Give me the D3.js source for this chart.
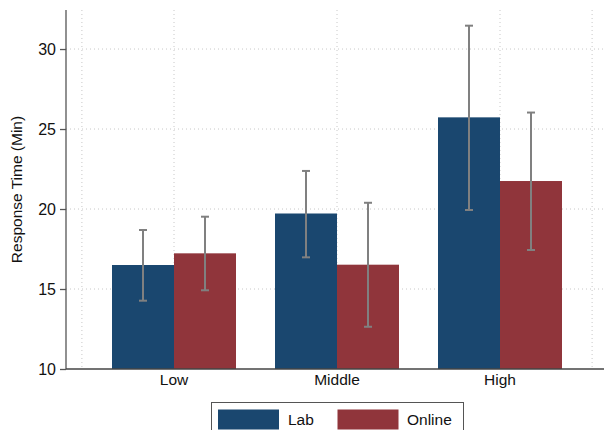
<!DOCTYPE html>
<html>
<head>
<meta charset="utf-8">
<script src="https://cdn.jsdelivr.net/npm/d3@7"></script>
<style>
  html, body { margin: 0; padding: 0; background: #fff; }
  svg { display: block; font-family: "Liberation Sans", Arial, Helvetica, sans-serif; }
</style>
</head>
<body>
<svg id="chart" width="604" height="430"></svg>
<script>
// Mean response time by group, with confidence intervals
const categories = ["Low", "Middle", "High"];
const seriesNames = ["Lab", "Online"];
const labMean   = [16.5, 19.72, 25.73];
const labLow    = [14.27, 16.98, 19.94];
const labHigh   = [18.69, 22.38, 31.46];
const onlineMean = [17.23, 16.52, 21.75];
const onlineLow  = [14.92, 12.64, 17.44];
const onlineHigh = [19.52, 20.39, 26.03];
const yTicks = [10, 15, 20, 25, 30];
const colors = ["#1a476f", "#90353b"];

const svg = d3.select("#chart");
const plot = { left: 66, right: 604, top: 10, bottom: 369 };

const y = d3.scaleLinear().domain([10, 32.44]).range([plot.bottom, plot.top]);
// group index -> x position of the group centre
const x = d3.scaleLinear().domain([0, 2]).range([174, 500]);
const barW = 62;

// vertical grid: group centres plus outer guides
const gridX = [-0.565, 0, 1, 2, 2.565];

const grid = svg.append("g");
grid.selectAll("line.h").data(yTicks.slice(1)).join("line")
  .attr("x1", plot.left).attr("x2", plot.right)
  .attr("y1", d => y(d)).attr("y2", d => y(d))
  .attr("stroke", "#c8c8c8").attr("stroke-width", 1)
  .attr("stroke-dasharray", "1,3");
grid.selectAll("line.v").data(gridX).join("line")
  .attr("x1", d => x(d)).attr("x2", d => x(d))
  .attr("y1", plot.top).attr("y2", plot.bottom)
  .attr("stroke", "#c8c8c8").attr("stroke-width", 1)
  .attr("stroke-dasharray", "1,3");

const series = [
  { name: seriesNames[0], mean: labMean, lo: labLow, hi: labHigh, offset: -1 },
  { name: seriesNames[1], mean: onlineMean, lo: onlineLow, hi: onlineHigh, offset: 0 }
];

series.forEach((s, si) => {
  const g = svg.append("g");
  g.selectAll("rect").data(categories).join("rect")
    .attr("x", (d, i) => x(i) + s.offset * barW)
    .attr("width", barW)
    .attr("y", (d, i) => y(s.mean[i]))
    .attr("height", (d, i) => y(10) - y(s.mean[i]))
    .attr("fill", colors[si]);
});

// error bars
series.forEach((s) => {
  const g = svg.append("g").attr("stroke", "#808080").attr("stroke-width", 2);
  categories.forEach((c, i) => {
    const cx = x(i) + s.offset * barW + barW / 2;
    g.append("line").attr("x1", cx).attr("x2", cx)
      .attr("y1", y(s.lo[i])).attr("y2", y(s.hi[i]));
    [s.lo[i], s.hi[i]].forEach(v => {
      g.append("line").attr("x1", cx - 4).attr("x2", cx + 4)
        .attr("y1", y(v)).attr("y2", y(v));
    });
  });
});

// y axis
const yAxis = d3.axisLeft(y).tickValues(yTicks).tickSize(6).tickPadding(4);
const ya = svg.append("g").attr("transform", `translate(${plot.left},0)`).call(yAxis);
ya.select(".domain").attr("stroke", "#555").attr("stroke-width", 1.3)
  .attr("d", `M0,${plot.top}V${plot.bottom}`);
ya.selectAll(".tick line").attr("stroke", "#555").attr("stroke-width", 1.3);
ya.selectAll(".tick text").attr("font-size", 16).attr("fill", "#111")
  .attr("font-family", "Liberation Sans, Arial, sans-serif");

// x axis
svg.append("line")
  .attr("x1", plot.left).attr("x2", plot.right)
  .attr("y1", plot.bottom).attr("y2", plot.bottom)
  .attr("stroke", "#444").attr("stroke-width", 1.3);
svg.append("g").selectAll("text").data(categories).join("text")
  .attr("x", (d, i) => x(i)).attr("y", 384.5)
  .attr("text-anchor", "middle").attr("font-size", 15.5).attr("fill", "#111")
  .text(d => d);

// y title
svg.append("text")
  .attr("transform", `translate(22,${(plot.top + plot.bottom) / 2}) rotate(-90)`)
  .attr("text-anchor", "middle").attr("font-size", 15.5).attr("fill", "#111")
  .text("Response Time (Min)");

// legend
const lg = svg.append("g");
lg.append("rect").attr("x", 211.5).attr("y", 402.5).attr("width", 252).attr("height", 40)
  .attr("fill", "#fff").attr("stroke", "#555").attr("stroke-width", 1);
const legendX = [218, 337.5];
const legendTextX = [288, 407];
seriesNames.forEach((n, i) => {
  lg.append("rect").attr("x", legendX[i]).attr("y", 409.5).attr("width", 61).attr("height", 20)
    .attr("fill", colors[i]);
  lg.append("text").attr("x", legendTextX[i]).attr("y", 425)
    .attr("font-size", 15.5).attr("fill", "#111").text(n);
});
</script>
</body>
</html>
